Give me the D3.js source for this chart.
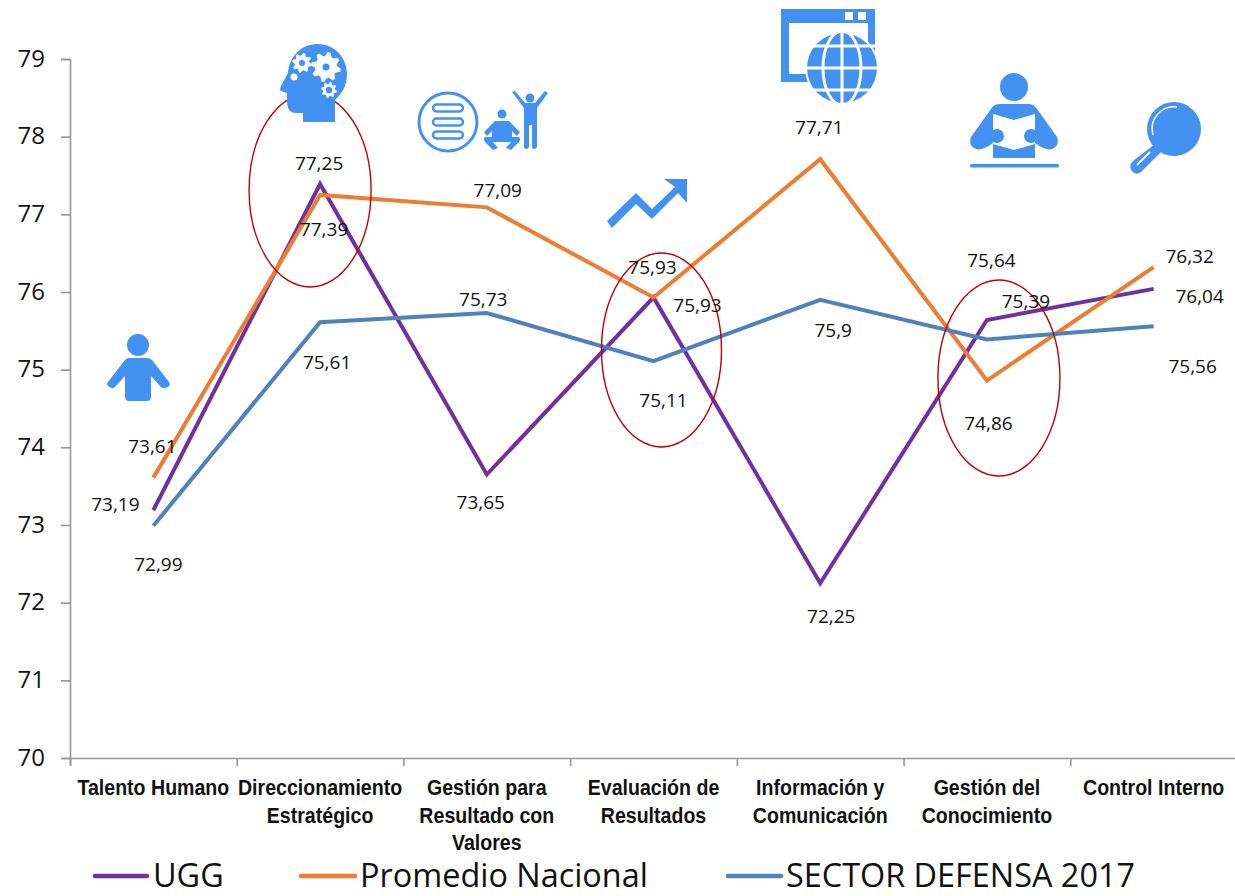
<!DOCTYPE html>
<html><head><meta charset="utf-8">
<script src="https://cdn.jsdelivr.net/npm/d3@7"></script>
<style>html,body{margin:0;padding:0;background:#fff}svg{display:block}</style>
</head><body><svg id="c" width="1235" height="896"></svg>
<script>
const categories = [["Talento Humano"],["Direccionamiento","Estratégico"],["Gestión para","Resultado con","Valores"],["Evaluación de","Resultados"],["Información y","Comunicación"],["Gestión del","Conocimiento"],["Control Interno"]];
const seriesNames = ["UGG","Promedio Nacional","SECTOR DEFENSA 2017"];
const ugg = [73.19,77.39,73.65,75.93,72.25,75.64,76.04];
const promedio = [73.61,77.25,77.09,75.93,77.71,74.86,76.32];
const sector = [72.99,75.61,75.73,75.11,75.9,75.39,75.56];
const yTicks = [70,71,72,73,74,75,76,77,78,79];
const colors = ["#7030A0","#ED7D31","#4F81BD"];
const uggOffsets = [[-37,-6],[5,45],[-5,28],[45,8],[12,33],[5.5,-60],[47,7]];
const promedioOffsets = [[0,-31],[0,-32],[12,-17],[0,-30],[0,-32],[2.5,42.5],[37,-11]];
const sectorOffsets = [[6,39],[8,40],[-2.5,-14],[11,39],[14,31],[40,-38],[40,40]];
const highlighted = [[1,-10,190,61,97],[3,8,350,60,97],[5,12,378,61,98]];

const svg = d3.select("#c");
const x = d3.scaleBand().domain(d3.range(categories.length)).range([70,1237]);
const cx = i => x(i)+x.bandwidth()/2;
const y = d3.scaleLinear().domain([70,79]).range([758,59]);
const axisColor = "#969696", iconBlue = "#4392F1";

const yAxis = svg.append("g").attr("transform","translate(70,0)").call(d3.axisLeft(y).tickValues(yTicks).tickSize(9).tickPadding(6).tickFormat(d3.format("d")));
yAxis.selectAll("path,line").attr("stroke",axisColor).attr("stroke-width",1.6);
yAxis.selectAll("text").attr("font-family","'Open Sans',sans-serif").attr("font-size",24).attr("fill","#111").attr("x",-25).attr("dy","0.3em");
const edge = d3.scaleLinear().domain([0,categories.length]).range([70,1237]);
const xAxis = svg.append("g").attr("transform","translate(0,758)").call(d3.axisBottom(edge).ticks(categories.length).tickSize(8).tickFormat(""));
xAxis.selectAll("path,line").attr("stroke",axisColor).attr("stroke-width",1.6);

categories.forEach((lines,i)=>{
  lines.forEach((t,j)=>{
    svg.append("text").attr("text-anchor","middle")
      .attr("font-family","'Liberation Sans',Arial,sans-serif").attr("font-weight","bold").attr("font-size",22).attr("fill","#111")
      .attr("transform",`translate(${cx(i)},${795+j*27.5}) scale(0.89,1)`).text(t);
  });
});

const line = d3.line().x((d,i)=>cx(i)).y(d=>y(d));
[ugg,promedio,sector].forEach((s,k)=>{
  svg.append("path").datum(s).attr("d",line).attr("fill","none").attr("stroke",colors[k]).attr("stroke-width",4).attr("stroke-linejoin","miter");
});

highlighted.forEach(([i,dx,yc,rx,ry])=>{
  svg.append("ellipse").attr("cx",cx(i)+dx).attr("cy",yc).attr("rx",rx).attr("ry",ry).attr("fill","none").attr("stroke","#C00000").attr("stroke-width",1.4);
});

const fmt = v => String(v).replace(".",",");
[[ugg,uggOffsets],[promedio,promedioOffsets],[sector,sectorOffsets]].forEach(([s,o])=>{
  svg.append("g").selectAll("text").data(s).join("text")
    .attr("x",(d,i)=>cx(i)+o[i][0]-1).attr("y",(d,i)=>y(d)+o[i][1]).attr("dy","0.35em")
    .attr("text-anchor","middle").attr("font-family","'Open Sans',sans-serif").attr("font-size",19).attr("fill","#111")
    .text(fmt);
});

const legendX = [[95,147,153],[301,355,360],[728,781,786]];
seriesNames.forEach((n,i)=>{
  const [a,b,t] = legendX[i];
  svg.append("line").attr("x1",a).attr("x2",b).attr("y1",876).attr("y2",876).attr("stroke",colors[i]).attr("stroke-width",4.5).attr("stroke-linecap","round");
  svg.append("text").attr("x",t).attr("y",887).attr("font-family","'Open Sans',sans-serif").attr("font-size",32.4).attr("fill","#111").text(n);
});

// --- pictograms ---
const ic = svg.append("g").attr("fill",iconBlue);
const gear = (gx,gy,r,teeth) => {
  let p = "";
  const n = teeth*4;
  d3.range(n).forEach(k=>{
    const a = k/n*2*Math.PI, rr = (k%4<2)? r : r*0.74;
    p += (k?"L":"M")+(gx+rr*Math.cos(a+0.12))+","+(gy+rr*Math.sin(a+0.12));
  });
  return p+"Z";
};
// person
ic.append("circle").attr("cx",138).attr("cy",345).attr("r",11);
ic.append("path").attr("d","M129,358H147Q150,358 152,360L169,382Q171,385 168,387L165,388Q163,389 161,387L151,376V397Q151,401 147,401H129Q125,401 125,397V376L115,387Q113,389 111,388L108,386Q106,384 108,382L125,360Q127,358 129,358Z");
// head with gears
ic.append("path").attr("d","M317,44C337,44 347,60 347,74C347,88 340,95 335,100V122H303V113H296C288,113 287,106 287,100V93L281,91C279,90 281,86 282,84L288,73C289,58 300,44 317,44Z");
const w = svg.append("g").attr("fill","#fff");
w.append("path").attr("d",gear(326,67,15,8)); 
w.append("path").attr("d",gear(302,63,10,8)); 
w.append("path").attr("d",gear(329,90,8,8)); 
w.append("circle").attr("cx",294).attr("cy",77).attr("r",3.5);
const holes = svg.append("g").attr("fill",iconBlue);
holes.append("circle").attr("cx",326).attr("cy",67).attr("r",3.5);
holes.append("circle").attr("cx",302).attr("cy",63).attr("r",3);
holes.append("circle").attr("cx",329).attr("cy",90).attr("r",3.2);
// list in circle + people
ic.append("circle").attr("cx",448).attr("cy",122).attr("r",29).attr("fill","none").attr("stroke",iconBlue).attr("stroke-width",3);
[108,122,135].forEach(yy=>ic.append("rect").attr("x",433).attr("y",yy-3.5).attr("width",30).attr("height",7).attr("rx",3.5).attr("fill","none").attr("stroke",iconBlue).attr("stroke-width",2.5));
ic.append("circle").attr("cx",502).attr("cy",114).attr("r",4.5);
ic.append("path").attr("d","M495,121H509L520,132L517,136L512,131V137H519Q521,139 519,142L511,150L506,148L511,142H493L498,148L493,150L485,142Q483,139 485,137H492V131L487,136L484,132Z");
ic.append("circle").attr("cx",530).attr("cy",98).attr("r",4.5);
ic.append("path").attr("d","M512,92L515,91L525,103H535L545,91L548,93L537,108V146Q537,149 534,149Q532,149 532,146V125H529V146Q529,149 526,149Q524,149 524,146V108Z");
// trend arrow
ic.append("path").attr("d","M607,221L636,193L652,209L675,187L664,179H687V203L678,193L652,219L636,204L612,228Z");
// browser + globe
ic.append("path").attr("fill-rule","evenodd").attr("d","M781,9H875V82H781ZM789,23V74H868V23ZM845,12V20H853V12ZM858,12V20H866V12Z");
svg.append("circle").attr("cx",842).attr("cy",68).attr("r",37).attr("fill","#fff");
svg.append("circle").attr("cx",842).attr("cy",68).attr("r",35).attr("fill",iconBlue);
const g2 = svg.append("g").attr("fill","none").attr("stroke","#fff").attr("stroke-width",3);
[46,68,90].forEach(yy=>g2.append("line").attr("x1",805).attr("x2",879).attr("y1",yy).attr("y2",yy));
g2.append("line").attr("x1",842).attr("x2",842).attr("y1",32).attr("y2",104);
g2.append("ellipse").attr("cx",842).attr("cy",68).attr("rx",19).attr("ry",37);
// reader
const r = svg.append("g").attr("fill",iconBlue);
r.append("circle").attr("cx",1014).attr("cy",87).attr("r",14);
r.append("path").attr("d","M1000,104H1028Q1034,104 1037,109L1057,137Q1060,146 1052,149Q1046,151 1035,143V158H993V143Q982,151 976,149Q968,146 971,137L991,109Q994,104 1000,104Z");
svg.append("path").attr("fill","#fff").attr("d","M993,114L1014,120L1035,114V137L1035,144L1014,150L993,144Z");
r.clone(false);
svg.append("circle").attr("cx",997).attr("cy",136).attr("r",7).attr("fill",iconBlue);
svg.append("circle").attr("cx",1031).attr("cy",136).attr("r",7).attr("fill",iconBlue);
svg.append("rect").attr("x",970).attr("y",164).attr("width",89).attr("height",3.5).attr("rx",1.5).attr("fill",iconBlue);
// magnifier
svg.append("circle").attr("cx",1174).attr("cy",129).attr("r",27).attr("fill",iconBlue);
svg.append("path").attr("fill",iconBlue).attr("d","M1155,144L1162,151L1141,172Q1136,176 1132,171Q1128,166 1133,161Z");
svg.append("path").attr("d","M1153,135A22,22 0 0 1 1177,107").attr("fill","none").attr("stroke","#fff").attr("stroke-width",1.5);
svg.append("path").attr("d","M1150,152L1137,165").attr("fill","none").attr("stroke","#fff").attr("stroke-width",2);
</script></body></html>
